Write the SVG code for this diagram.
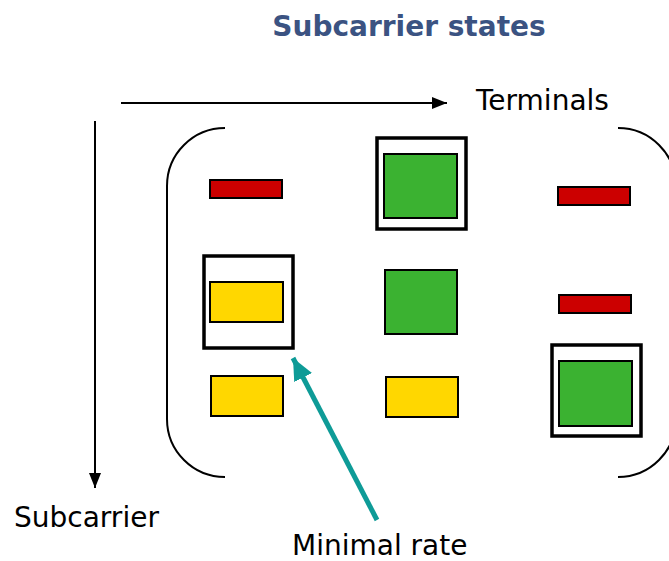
<svg xmlns="http://www.w3.org/2000/svg" width="669" height="561" viewBox="0 0 669 561">
  <style>
    .title { font-family: "DejaVu Sans", Verdana, sans-serif; font-weight: bold; font-size: 28px; fill: #3b5382; }
    .label { font-family: "DejaVu Sans", Tahoma, sans-serif; font-size: 28px; fill: #000; }
    .axis { stroke: #000; stroke-width: 2; fill: none; }
    .brace { stroke: #000; stroke-width: 2; fill: none; }
    .frame { stroke: #000; stroke-width: 3.5; fill: #fff; }
    .red { fill: #cc0000; stroke: #000; stroke-width: 2; }
    .green { fill: #3bb231; stroke: #000; stroke-width: 2; }
    .yellow { fill: #ffd700; stroke: #000; stroke-width: 2; }
    .pointer { stroke: #0e9b97; stroke-width: 5; fill: none; }
  </style>
  <defs>
    <marker id="axisHead" viewBox="0 0 15 12" refX="15" refY="6" markerWidth="15" markerHeight="12" markerUnits="userSpaceOnUse" orient="auto">
      <path d="M0,0 L15,6 L0,12 Z" fill="#000"/>
    </marker>
    <marker id="tealHead" viewBox="0 0 22 20" refX="22" refY="10" markerWidth="22" markerHeight="20" markerUnits="userSpaceOnUse" orient="auto">
      <path d="M0,0 L22,10 L0,20 Z" fill="#0e9b97"/>
    </marker>
  </defs>

  <text class="title" x="409" y="36" text-anchor="middle">Subcarrier states</text>

  <g id="connectors">
    <line class="axis" x1="121" y1="103" x2="447" y2="103" marker-end="url(#axisHead)"/>
    <line class="axis" x1="95" y1="121" x2="95" y2="488" marker-end="url(#axisHead)"/>
    <line class="pointer" x1="377" y1="520" x2="293" y2="358" marker-end="url(#tealHead)"/>
  </g>

  <g id="axis-labels">
    <text class="label" x="476" y="110">Terminals</text>
    <text class="label" x="14" y="527">Subcarrier</text>
    <text class="label" x="292" y="555">Minimal rate</text>
  </g>

  <!-- matrix brackets -->
  <g id="brackets">
    <path class="brace" d="M225,128 A58,58 0 0 0 167,186 L167,419 A58,58 0 0 0 225,477"/>
    <path class="brace" d="M618,128 A58,58 0 0 1 676,186 L676,419 A58,58 0 0 1 618,477"/>
  </g>

  <!-- row 1 -->
  <g id="cell-1-1"><rect class="red" x="210" y="180" width="72" height="18"/></g>
  <g id="cell-1-2">
    <rect class="frame" x="377" y="138" width="89" height="91"/>
    <rect class="green" x="384" y="154" width="73" height="64"/>
  </g>
  <g id="cell-1-3"><rect class="red" x="558" y="187" width="72" height="18"/></g>

  <!-- row 2 -->
  <g id="cell-2-1">
    <rect class="frame" x="204" y="256" width="89" height="92"/>
    <rect class="yellow" x="210" y="282" width="73" height="40"/>
  </g>
  <g id="cell-2-2"><rect class="green" x="385" y="270" width="72" height="64"/></g>
  <g id="cell-2-3"><rect class="red" x="559" y="295" width="72" height="18"/></g>

  <!-- row 3 -->
  <g id="cell-3-1"><rect class="yellow" x="211" y="376" width="72" height="40"/></g>
  <g id="cell-3-2"><rect class="yellow" x="386" y="377" width="72" height="40"/></g>
  <g id="cell-3-3">
    <rect class="frame" x="552" y="345" width="89" height="91"/>
    <rect class="green" x="559" y="361" width="73" height="65"/>
  </g>
</svg>
